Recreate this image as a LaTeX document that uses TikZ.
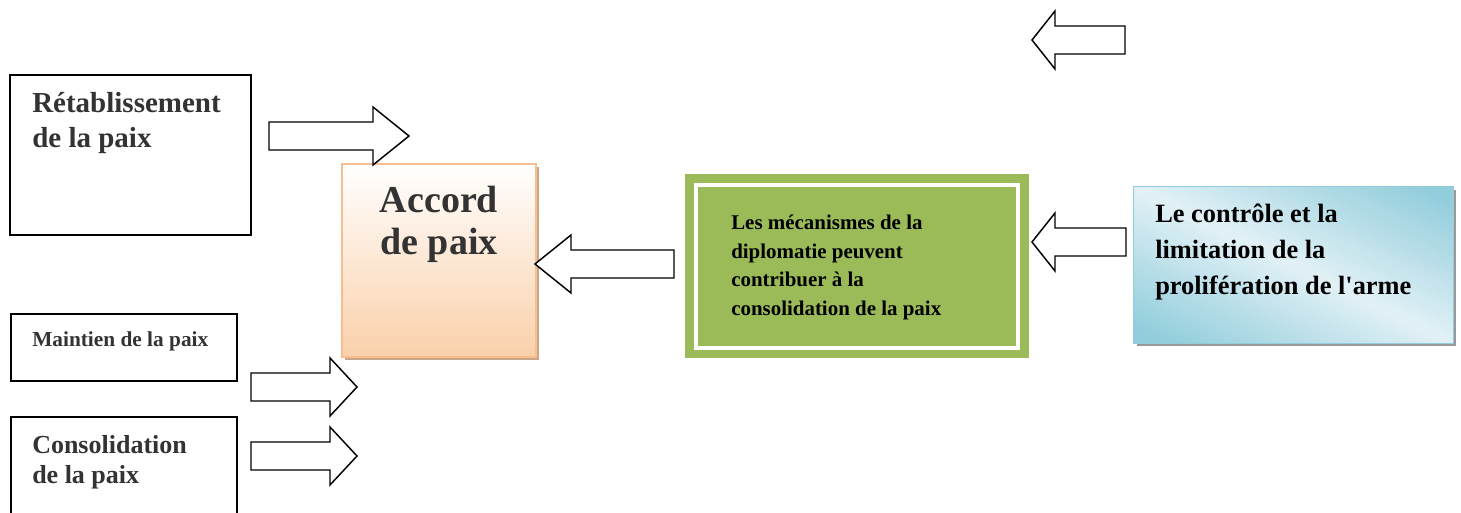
\documentclass[tikz,border=0pt]{standalone}
\usepackage{fontspec}
\setmainfont{Liberation Serif}
\usetikzlibrary{fit,shadows}

\definecolor{peach}{HTML}{FAD0AA}
\definecolor{peachline}{HTML}{F9BE8F}
\definecolor{shadebrown}{HTML}{C9A68A}
\definecolor{olive}{HTML}{9BBB59}
\definecolor{bluedark}{HTML}{92CDDC}
\definecolor{bluelight}{HTML}{E2F1F6}
\definecolor{inkgray}{HTML}{333333}

\tikzstyle{plainbox}=[draw=black, line width=1.1pt, inner sep=0pt]
\tikzstyle{hollow}=[draw=black, line width=1.1pt, fill=white]
\tikzstyle{boxtext}=[anchor=north west, inner sep=0pt, align=left]

% tail x, head x, tip x, middle y
\newcommand{\blockarrow}[4]{%
  \draw[hollow] (#1,#4-14) -- (#2,#4-14) -- (#2,#4-29) -- (#3,#4) -- (#2,#4+29) -- (#2,#4+14) -- (#1,#4+14) -- cycle;}

\begin{document}
\begin{tikzpicture}[x=0.75pt, y=-0.75pt]

\useasboundingbox (0,0) rectangle (1461,513);
\clip (0,0) rectangle (1461,513);

% left column
\node (retab) [plainbox, fit={(10,75) (251,235)}] {};
\node (retabtext) [boxtext, text=inkgray, font=\fontsize{21.75}{26}\selectfont\bfseries] at (32,92) {Rétablissement\\de la paix};

\node (maintien) [plainbox, fit={(11,314) (237,381)}] {};
\node (maintientext) [boxtext, text=inkgray, font=\fontsize{16}{18}\selectfont\bfseries] at (32,331) {Maintien de la paix};

\node (consol) [plainbox, fit={(11,417) (237,540)}] {};
\node (consoltext) [boxtext, text=inkgray, font=\fontsize{19.5}{22.5}\selectfont\bfseries] at (32,435) {Consolidation\\de la paix};

% accord
\node (accord) [fit={(342,164) (536,357)}, inner sep=0pt, draw=peachline, line width=1.5pt,
  top color=white, bottom color=peach,
  drop shadow={shadow xshift=2.25pt, shadow yshift=-2.25pt, fill=shadebrown, opacity=1}] {};
\node (accordtext) [boxtext, anchor=north, align=center, text=inkgray, font=\fontsize{28.5}{31.5}\selectfont\bfseries] at (439,186) {Accord\\de paix};

% diplomatie
\node (diplo) [fit={(685,174) (1029,358)}, inner sep=0pt, fill=olive] {};
\node (diploframe) [fit={(696,185) (1018,348)}, inner sep=0pt, draw=white, line width=3pt] {};
\node (diplotext) [boxtext, font=\fontsize{15.7}{21.4}\selectfont\bfseries] at (731,215) {Les mécanismes de la\\diplomatie peuvent\\contribuer à la\\consolidation de la paix};

% armes: light band along the diagonal
\node (armes) [fit={(1134,187) (1453,343)}, inner sep=0pt, fill=bluelight,
  drop shadow={shadow xshift=2.25pt, shadow yshift=-2.25pt, fill=black!40, opacity=1}] {};
\begin{scope}
  \clip (armes.north west) rectangle (armes.south east);
  \foreach \i in {-22,...,21}{
    \pgfmathsetmacro{\ta}{\i*7}
    \pgfmathsetmacro{\tb}{\i*7+8}
    \pgfmathsetmacro{\mix}{min(100,abs(\i*7+3.5)/1.25)}
    \fill[bluedark!\mix!bluelight, shift={(armes.center)}]
      (-0.4393*\ta-225,0.8983*\ta-110) -- (-0.4393*\ta+225,0.8983*\ta+110)
      -- (-0.4393*\tb+225,0.8983*\tb+110) -- (-0.4393*\tb-225,0.8983*\tb-110) -- cycle;
  }
\end{scope}
\draw[bluedark, line width=1pt] (armes.north west) rectangle (armes.south east);
\node (armestext) [boxtext, font=\fontsize{19.8}{27}\selectfont\bfseries] at (1155,204) {Le contrôle et la\\limitation de la\\prolifération de l\textquotesingle arme};

% arrows
\blockarrow{269}{373}{409}{136}
\blockarrow{251}{330}{357}{387}
\blockarrow{251}{330}{357}{456}
\blockarrow{674}{571}{535}{264}
\blockarrow{1126}{1055}{1032}{242}
\blockarrow{1125}{1055}{1032}{40}

\end{tikzpicture}
\end{document}
